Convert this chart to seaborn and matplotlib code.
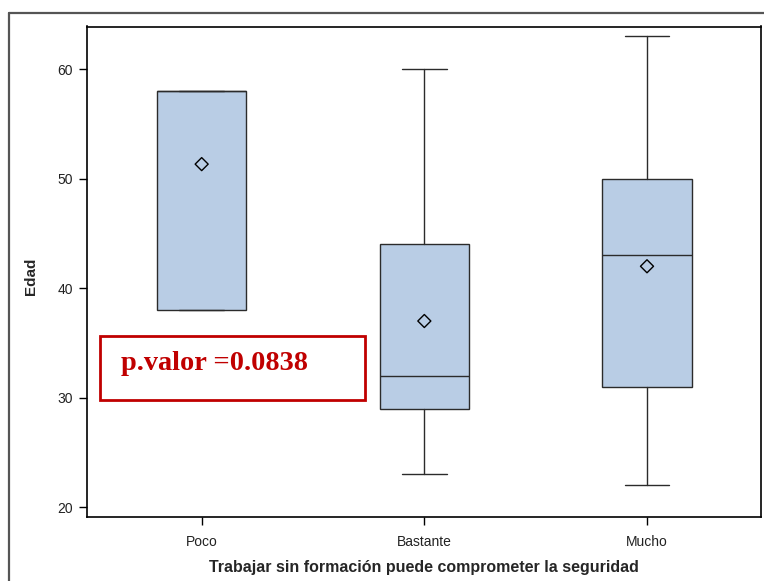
import matplotlib
matplotlib.use("Agg")
import matplotlib.pyplot as plt
import seaborn as sns
from matplotlib.lines import Line2D
from matplotlib.patches import Rectangle

# Summary statistics of age for each response category
categories = ["Poco", "Bastante", "Mucho"]
whisker_low = [38, 23, 22]
q1 = [38, 29, 31]
medians = [58, 32, 43]
q3 = [58, 44, 50]
whisker_high = [58, 60, 63]
means = [51.33, 37.0, 42.0]
y_ticks = [20, 30, 40, 50, 60]
p_value_text = "p.valor =0.0838"

sns.set_style("white")
plt.rcParams["font.family"] = ["Liberation Sans", "DejaVu Sans"]

W, H = 764, 581
fig = plt.figure(figsize=(W / 100, H / 100), dpi=100)
ax = fig.add_axes([87 / W, 1 - 517 / H, (761 - 87) / W, (517 - 26.5) / H])

box_fill = "#B9CDE5"
edge = "#2b2b2b"

stats = [
    dict(label=c, whislo=wl, q1=a, med=m, q3=b, whishi=wh, fliers=[])
    for c, wl, a, m, b, wh in zip(categories, whisker_low, q1, medians, q3, whisker_high)
]
ax.bxp(
    stats,
    positions=range(len(categories)),
    widths=0.4,
    patch_artist=True,
    showfliers=False,
    boxprops=dict(facecolor=box_fill, edgecolor=edge, linewidth=1.0),
    medianprops=dict(color=edge, linewidth=1.0),
    whiskerprops=dict(color=edge, linewidth=1.0),
    capprops=dict(color=edge, linewidth=1.0),
)

# Mean markers
sns.scatterplot(
    x=list(range(len(categories))), y=means, ax=ax, marker="D", s=44,
    facecolor="none", edgecolor="black", linewidth=1.0, zorder=5, legend=False,
)

ax.set_xlim(-0.515, 2.512)
ax.set_ylim(19.1, 63.9)
ax.set_xticks(range(len(categories)))
ax.set_xticklabels(categories)
ax.set_yticks(y_ticks)
ax.set_yticklabels([str(v) for v in y_ticks])

for s in ax.spines.values():
    s.set_visible(True)
    s.set_color("black")
    s.set_linewidth(1.2)

ax.tick_params(axis="both", direction="out", length=6, width=1.0, color="black",
               labelsize=10, labelcolor="#222222")
ax.tick_params(axis="y", pad=4)
ax.tick_params(axis="x", pad=7)
ax.tick_params(bottom=True, left=True)

ax.set_xlabel("Trabajar sin formación puede comprometer la seguridad",
              fontsize=11.5, fontweight="bold", labelpad=8)
ax.set_ylabel("Edad", fontsize=11, fontweight="bold")
ax.yaxis.set_label_coords(-0.072, 0.49)

# p-value annotation box
ax.add_patch(Rectangle((100 / W, 1 - 400 / H), (365 - 100) / W, (400 - 336) / H,
                       transform=fig.transFigure, fill=False, edgecolor="#C00000",
                       linewidth=2.0, zorder=6, clip_on=False))
fig.text(121 / W, 1 - 364 / H, p_value_text, color="#C00000", fontsize=20.4,
         fontweight="bold", family=["Liberation Serif", "DejaVu Serif"],
         ha="left", va="center")

# Outer page frame (left and top edges)
fig.add_artist(Line2D([9 / W, 9 / W], [0, 1 - 13 / H], transform=fig.transFigure,
                      color="#555555", linewidth=1.6))
fig.add_artist(Line2D([9 / W, 1], [1 - 13 / H, 1 - 13 / H], transform=fig.transFigure,
                      color="#555555", linewidth=1.6))

fig.savefig("out.png", dpi=100)
